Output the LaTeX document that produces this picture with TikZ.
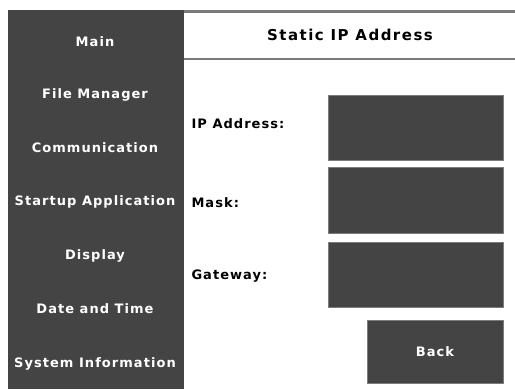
\documentclass[tikz,border=0pt]{standalone}
\usepackage{fontspec}
\setmainfont{DejaVu Sans}
\newfontfamily\uifont[LetterSpace=8]{DejaVu Sans}
\newfontfamily\titlefont[LetterSpace=10]{DejaVu Sans}
\definecolor{panel}{HTML}{444444}
\definecolor{rule}{HTML}{7A7A7A}
\begin{document}
\begin{tikzpicture}[x=1pt,y=-1pt,
  uitext/.style={font=\uifont\bfseries\fontsize{13}{15}\selectfont},
  menuitem/.style={uitext,text=white,anchor=center},
  field/.style={fill=panel,draw=panel!70!white,line width=0.8pt},
  lbl/.style={uitext,anchor=west}]
\useasboundingbox (0,0) rectangle (515,389);
\fill[white] (0,0) rectangle (515,389);
% sidebar
\fill[panel] (8,10) rectangle (184,389);
% header rules
\draw[rule,line width=2.5pt] (184,11.5) -- (515,11.5);
\draw[rule,line width=1.5pt] (184,59) -- (515,59);
\node[font=\titlefont\bfseries\fontsize{15}{17}\selectfont] (title) at (350,35) {Static IP Address};
% menu entries
\node[menuitem] (m1) at (95,42) {Main};
\node[menuitem] (m2) at (95,95) {File Manager};
\node[menuitem] (m3) at (95,148) {Communication};
\node[menuitem] (m4) at (95,202) {Startup Application};
\node[menuitem] (m5) at (95,256) {Display};
\node[menuitem] (m6) at (95,309) {Date and Time};
\node[menuitem] (m7) at (95,364) {System Information};
% labels
\node[lbl] (l1) at (188,124) {IP Address:};
\node[lbl] (l2) at (188,203) {Mask:};
\node[lbl] (l3) at (188,276) {Gateway:};
% input boxes
\draw[field] (328,95) rectangle (503,160);
\draw[field] (328,167) rectangle (503,233);
\draw[field] (328,242) rectangle (503,307);
\draw[field] (367,320) rectangle (503,383);
\node[menuitem] (back) at (435,352) {Back};
\end{tikzpicture}
\end{document}
